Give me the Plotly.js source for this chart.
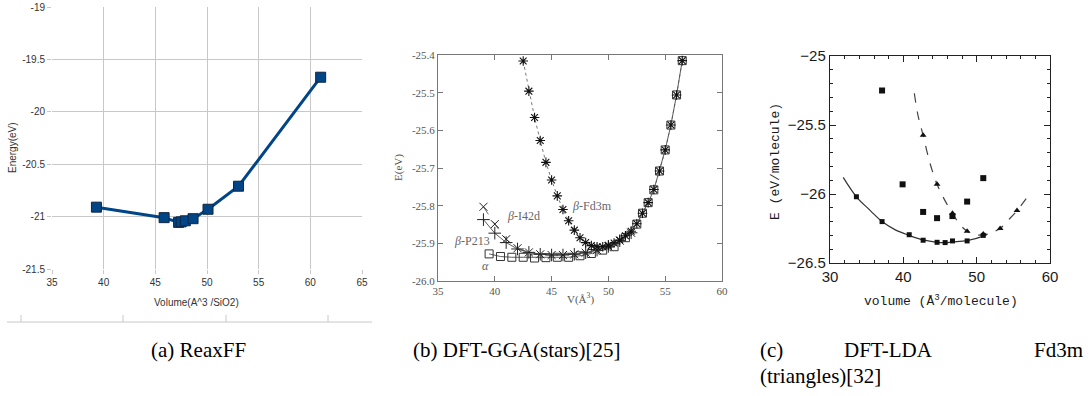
<!DOCTYPE html>
<html><head><meta charset="utf-8">
<script src="https://cdn.plot.ly/plotly-3.0.1.min.js"></script>
<style>html,body{margin:0;padding:0;background:#fff}#chart{width:1089px;height:396px}</style>
</head><body><div id="chart"></div>
<script>
// ---------- (a) ReaxFF ----------
const reaxVolume = [39.3, 45.85, 47.25, 47.5, 47.9, 48.65, 50.1, 53.05, 61.0];
const reaxEnergy = [-20.91, -21.01, -21.055, -21.05, -21.04, -21.02, -20.93, -20.71, -19.67];
const reaxXTicks = [35, 40, 45, 50, 55, 60, 65];
const reaxXTickText = ['35', '40', '45', '50', '55', '60', '65'];
const reaxYTicks = [-21.5, -21, -20.5, -20, -19.5, -19];
const reaxYTickText = ['-21.5', '-21', '-20.5', '-20', '-19.5', '-19'];

// ---------- (b) DFT-GGA ----------
const alphaV = [39.5, 40.5, 41.5, 42.5, 43.5, 44.5, 45.5, 46.5, 47.5, 48.5, 49.5, 50.5, 51.5, 52.5, 53, 53.5, 54, 54.5, 55, 55.5, 56, 56.5];
const alphaE = [-25.928, -25.935, -25.937, -25.937, -25.939, -25.938, -25.937, -25.937, -25.933, -25.927, -25.918, -25.909, -25.885, -25.849, -25.82, -25.792, -25.758, -25.708, -25.652, -25.586, -25.506, -25.415];
const p213V = [39, 40, 41, 42, 43, 44, 45, 46, 47, 48, 49, 50, 51, 52];
const p213E = [-25.837, -25.873, -25.898, -25.915, -25.924, -25.929, -25.931, -25.931, -25.929, -25.925, -25.918, -25.908, -25.893, -25.872];
const i42dV = [39, 40, 41, 42, 43, 44, 45, 46, 47, 48, 49, 50, 51, 52];
const i42dE = [-25.803, -25.849, -25.889, -25.913, -25.924, -25.929, -25.931, -25.931, -25.929, -25.925, -25.918, -25.908, -25.893, -25.872];
const fd3mV = [42.5, 43, 43.5, 44, 44.5, 45, 45.5, 46, 46.5, 47, 47.5, 48, 48.5, 49, 49.5, 50, 50.5, 51, 51.5, 52, 52.5, 53, 53.5, 54, 54.5, 55, 55.5, 56, 56.5];
const fd3mE = [-25.416, -25.496, -25.566, -25.627, -25.685, -25.732, -25.774, -25.81, -25.84, -25.865, -25.885, -25.898, -25.906, -25.909, -25.909, -25.905, -25.899, -25.891, -25.88, -25.868, -25.848, -25.82, -25.792, -25.757, -25.708, -25.652, -25.586, -25.506, -25.415];
const ggaXTicks = [35, 40, 45, 50, 55, 60];
const ggaXTickText = ['35', '40', '45', '50', '55', '60'];
const ggaYTicks = [-26.0, -25.9, -25.8, -25.7, -25.6, -25.5, -25.4];
const ggaYTickText = ['-26.0', '-25.9', '-25.8', '-25.7', '-25.6', '-25.5', '-25.4'];

// ---------- (c) DFT-LDA ----------
const ldaCurveV = [31.8, 33.6, 35.5, 37.1, 38.9, 40.8, 42.7, 44.6, 45.7, 46.7, 48.7, 50.9, 51.5];
const ldaCurveE = [-25.88, -26.02, -26.12, -26.2, -26.26, -26.3, -26.333, -26.35, -26.353, -26.348, -26.338, -26.305, -26.29];
const ldaDotV = [33.6, 37.1, 40.8, 42.7, 44.6, 45.7, 46.7, 48.7, 50.9];
const ldaDotE = [-26.02, -26.2, -26.295, -26.335, -26.35, -26.352, -26.34, -26.34, -26.3];
const ldaSquareV = [37.1, 39.9, 42.7, 44.6, 46.7, 48.7, 50.9];
const ldaSquareE = [-25.25, -25.93, -26.13, -26.175, -26.16, -26.055, -25.885];
const ldaTriV = [42.7, 44.6, 46.7, 48.7, 50.9, 53.2, 55.5];
const ldaTriE = [-25.575, -25.93, -26.14, -26.27, -26.29, -26.25, -26.12];
const ldaDashV = [41.5, 42.0, 42.7, 43.6, 44.6, 45.7, 46.7, 47.7, 48.7, 49.8, 50.9, 52.0, 53.2, 54.3, 55.5, 56.8];
const ldaDashE = [-25.27, -25.43, -25.575, -25.77, -25.93, -26.05, -26.14, -26.22, -26.27, -26.295, -26.295, -26.28, -26.25, -26.19, -26.12, -26.03];
const ldaXTicks = [30, 40, 50, 60];
const ldaXTickText = ['30', '40', '50', '60'];
const ldaYTicks = [-26.5, -26, -25.5, -25];
const ldaYTickText = ['\u221226.5', '\u221226', '\u221225.5', '\u221225'];

// ---------- layout helpers ----------
const W = 1089, H = 396;
const px = x => x / W;
const py = y => 1 - y / H;

const traces = [
  // (a)
  {x: reaxVolume, y: reaxEnergy, xaxis: 'x', yaxis: 'y', type: 'scatter', mode: 'lines+markers',
   line: {color: '#004586', width: 3},
   marker: {symbol: 'square', size: 10, color: '#004586', line: {color: '#10253f', width: 1}}},
  // (b)
  {x: alphaV, y: alphaE, xaxis: 'x2', yaxis: 'y2', mode: 'lines+markers',
   line: {color: '#333', width: 0.8}, marker: {symbol: 'square-open', size: 8, color: '#333', line: {width: 1}}},
  {x: p213V, y: p213E, xaxis: 'x2', yaxis: 'y2', mode: 'lines+markers',
   line: {color: '#333', width: 0.8}, marker: {symbol: 'cross-thin-open', size: 9, color: '#222', line: {width: 1}}},
  {x: i42dV, y: i42dE, xaxis: 'x2', yaxis: 'y2', mode: 'lines+markers',
   line: {color: '#444', width: 0.8, dash: 'dash'}, marker: {symbol: 'x-thin-open', size: 8, color: '#222', line: {width: 1}}},
  {x: fd3mV, y: fd3mE, xaxis: 'x2', yaxis: 'y2', mode: 'lines+markers',
   line: {color: '#555', width: 0.8, dash: 'dot'}, marker: {symbol: 'asterisk-open', size: 8, color: '#111', line: {width: 1.1}}},
  // (c)
  {x: ldaCurveV, y: ldaCurveE, xaxis: 'x3', yaxis: 'y3', mode: 'lines',
   line: {color: '#333', width: 1.2, shape: 'spline'}},
  {x: ldaDashV, y: ldaDashE, xaxis: 'x3', yaxis: 'y3', mode: 'lines',
   line: {color: '#444', width: 1.2, dash: 'dash', shape: 'spline'}},
  {x: ldaDotV, y: ldaDotE, xaxis: 'x3', yaxis: 'y3', mode: 'markers',
   marker: {symbol: 'square', size: 5, color: '#111'}},
  {x: ldaSquareV, y: ldaSquareE, xaxis: 'x3', yaxis: 'y3', mode: 'markers',
   marker: {symbol: 'square', size: 6, color: '#111'}},
  {x: ldaTriV, y: ldaTriE, xaxis: 'x3', yaxis: 'y3', mode: 'markers',
   marker: {symbol: 'triangle-up', size: 6, color: '#111'}}
];

const aFont = {family: 'Liberation Sans, Arial, sans-serif', size: 10, color: '#333'};
const bFont = {family: 'Liberation Serif, serif', size: 11, color: '#555'};
const cFont = {family: 'Liberation Sans, Arial, sans-serif', size: 15, color: '#1a1a1a'};
const capFont = {family: 'Liberation Serif, serif', size: 21, color: '#000'};
const labFont = {family: 'Liberation Serif, serif', size: 12, color: '#666'};
const monoFont = {family: 'Liberation Mono, monospace', size: 13, color: '#1a1a1a'};

function ann(text, x, y, font, extra) {
  return Object.assign({text: text, x: px(x), y: py(y), xref: 'paper', yref: 'paper',
    showarrow: false, font: font, xanchor: 'center', yanchor: 'middle'}, extra || {});
}

function tickShape(x0, y0, x1, y1) {
  return {type: 'line', xref: 'paper', yref: 'paper', x0: px(x0), x1: px(x1), y0: py(y0), y1: py(y1),
    line: {color: '#c8c8c8', width: 1}};
}

const layout = {
  width: W, height: H, margin: {l: 0, r: 0, t: 0, b: 0},
  paper_bgcolor: '#fff', plot_bgcolor: 'rgba(0,0,0,0)', showlegend: false,
  xaxis: {domain: [px(52), px(362)], range: [35, 65], anchor: 'y',
    tickmode: 'array', tickvals: reaxXTicks, ticktext: reaxXTickText,
    showgrid: true, gridcolor: '#c8c8c8', gridwidth: 1, zeroline: false, showline: false,
    ticks: 'outside', ticklen: 4, tickcolor: '#c8c8c8', tickfont: aFont},
  yaxis: {domain: [py(269), py(7)], range: [-21.5, -19], anchor: 'x',
    tickmode: 'array', tickvals: reaxYTicks, ticktext: reaxYTickText,
    showgrid: true, gridcolor: '#c8c8c8', gridwidth: 1, zeroline: false, showline: false,
    ticks: 'outside', ticklen: 4, tickcolor: '#c8c8c8', tickfont: aFont},
  xaxis2: {domain: [px(438), px(722)], range: [35, 60], anchor: 'y2',
    tickmode: 'array', tickvals: ggaXTicks, ticktext: ggaXTickText,
    showgrid: false, zeroline: false, showline: true, mirror: 'ticks', linecolor: '#777', linewidth: 1,
    ticks: 'inside', ticklen: 5, tickcolor: '#777', tickfont: bFont},
  yaxis2: {domain: [py(281), py(55)], range: [-26.0, -25.4], anchor: 'x2',
    tickmode: 'array', tickvals: ggaYTicks, ticktext: ggaYTickText,
    showgrid: false, zeroline: false, showline: true, mirror: 'ticks', linecolor: '#777', linewidth: 1,
    ticks: 'inside', ticklen: 5, tickcolor: '#777', tickfont: bFont},
  xaxis3: {domain: [px(830), px(1050)], range: [30, 60], anchor: 'y3',
    tickmode: 'array', tickvals: ldaXTicks, ticktext: ldaXTickText,
    showgrid: false, zeroline: false, showline: true, mirror: 'ticks', linecolor: '#222', linewidth: 1.2,
    ticks: 'inside', ticklen: 6, tickcolor: '#222', tickfont: cFont,
    minor: {tickmode: 'linear', tick0: 30, dtick: 2, ticks: 'inside', ticklen: 3, tickcolor: '#222'}},
  yaxis3: {domain: [py(263), py(56)], range: [-26.5, -25], anchor: 'x3',
    tickmode: 'array', tickvals: ldaYTicks, ticktext: ldaYTickText,
    showgrid: false, zeroline: false, showline: true, mirror: 'ticks', linecolor: '#222', linewidth: 1.2,
    ticks: 'inside', ticklen: 6, tickcolor: '#222', tickfont: cFont,
    minor: {tickmode: 'linear', tick0: -26.5, dtick: 0.1, ticks: 'inside', ticklen: 3, tickcolor: '#222'}},
  annotations: [
    // (a) axis titles
    ann('Energy(eV)', 12, 148, aFont, {textangle: -90}),
    ann('Volume(A^3 /SiO2)', 197, 302, aFont),
    // (b) axis titles and curve labels
    ann('E(eV)', 398, 168, bFont, {textangle: -90}),
    ann('V(Å<sup>3</sup>)', 580, 298, bFont),
    ann('<i>β</i>-Fd3m', 592, 206, labFont),
    ann('<i>β</i>-I42d', 523, 216, labFont),
    ann('<i>β</i>-P213', 472, 241, labFont),
    ann('<i>α</i>', 485, 266, labFont),
    // (c) axis titles
    ann('E (eV/molecule)', 775, 162, monoFont, {textangle: -90}),
    ann('volume (Å<sup>3</sup>/molecule)', 941, 300, monoFont),
    // captions
    ann('(a) ReaxFF', 198, 350, capFont),
    ann('(b) DFT-GGA(stars)[25]', 516, 350, capFont),
    ann('(c)', 758, 350, capFont, {xanchor: 'left'}),
    ann('DFT-LDA', 888, 350, capFont),
    ann('Fd3m', 1085, 350, capFont, {xanchor: 'right'}),
    ann('(triangles)[32]', 758, 376, capFont, {xanchor: 'left'})
  ],
  shapes: [
    tickShape(7, 322, 372, 322),
    tickShape(21, 315, 21, 322),
    tickShape(123, 315, 123, 322),
    tickShape(226, 315, 226, 322),
    tickShape(328, 315, 328, 322)
  ]
};

Plotly.newPlot('chart', traces, layout, {staticPlot: true, displayModeBar: false});
</script>
</body></html>
